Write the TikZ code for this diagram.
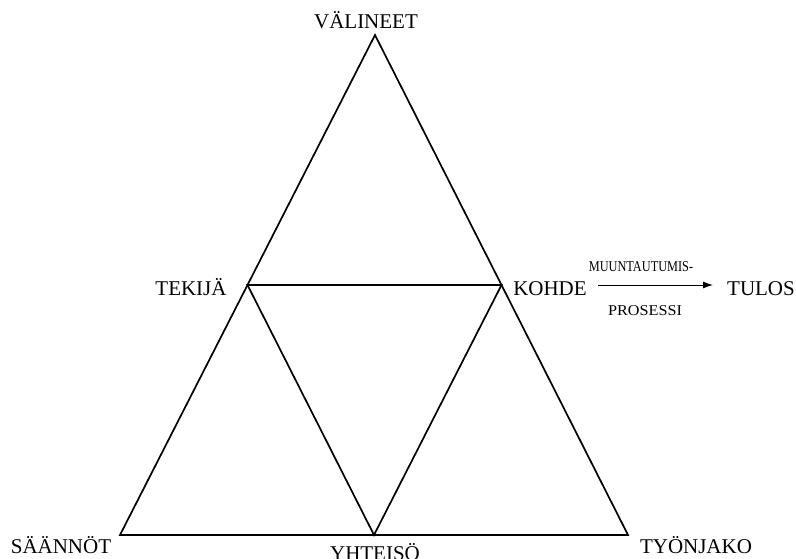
\documentclass[tikz,border=0pt]{standalone}
\usepackage{fontspec}
\setmainfont{Liberation Serif}
\usetikzlibrary{arrows.meta}
\tikzset{
  big/.style={anchor=base, inner sep=0pt, font=\fontsize{21}{25}\selectfont},
  small/.style={anchor=base, inner sep=0pt, font=\fontsize{15}{18}\selectfont},
  edge/.style={line width=1.7pt, line join=miter},
  proc/.style={line width=1pt, -{Latex[length=10pt,width=7pt]}}
}
\begin{document}
\begin{tikzpicture}[x=1pt,y=-1pt]
\useasboundingbox (0,0) rectangle (796,559);
% vertices
\coordinate (A) at (375,35);
\coordinate (L) at (120,535);
\coordinate (R) at (628,535);
\coordinate (T) at (247.5,285);
\coordinate (K) at (501.5,285);
\coordinate (Y) at (374,535);
\draw[edge] (A) -- (R) -- (L) -- cycle;
\draw[edge] (T) -- (K) -- (Y) -- cycle;
% labels
\node[big] (valineet) at (366,29) {VÄLINEET};
\node[big] (tekija) at (191,295) {TEKIJÄ};
\node[big] (kohde) at (550,295) {KOHDE};
\node[big] (tulos) at (761,295) {TULOS};
\node[big] (saannot) at (61,553) {SÄÄNNÖT};
\node[big] (yhteiso) at (375,560) {YHTEISÖ};
\node[big] (tyonjako) at (696,553) {TYÖNJAKO};
\node[small] (muunt) at (641,271) {\scalebox{0.82}[1]{MUUNTAUTUMIS-}};
\node[small] (prosessi) at (645,315) {\scalebox{1.08}[1]{PROSESSI}};
% arrow
\coordinate (aS) at (598,285);
\coordinate (aE) at (713,285);
\draw[proc] (aS) -- (aE);
\end{tikzpicture}
\end{document}
